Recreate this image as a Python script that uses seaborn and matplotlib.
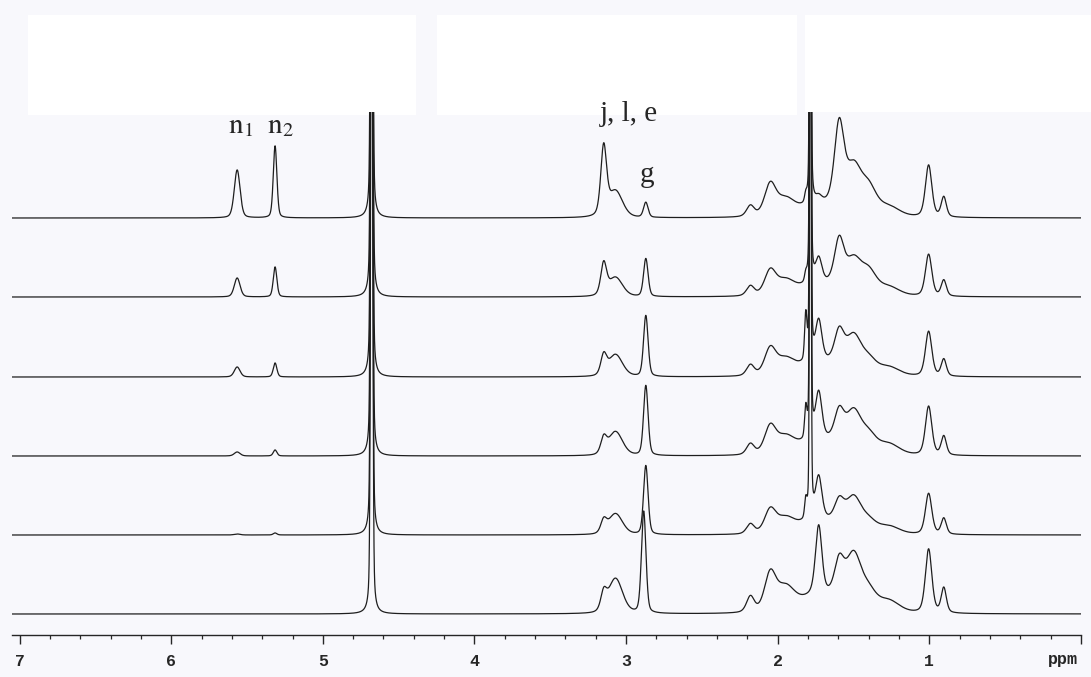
import numpy as np
import pandas as pd
import matplotlib
matplotlib.use("Agg")
import matplotlib.pyplot as plt
from matplotlib.patches import Rectangle
from matplotlib.ticker import MultipleLocator
import seaborn as sns

# peak table (ppm position, line width in ppm, lorentzian fraction)
peak_ppm = [5.565, 5.315, 4.678, 3.148, 3.07, 2.87, 2.18, 2.05, 1.95, 1.815,
            1.785, 1.73, 1.595, 1.50, 1.40, 1.27, 1.005, 0.905, 1.72]
peak_fwhm = [0.045, 0.028, 0.014, 0.045, 0.11, 0.035, 0.06, 0.09, 0.14, 0.018,
             0.010, 0.05, 0.075, 0.12, 0.12, 0.17, 0.05, 0.04, 0.30]
peak_eta = [0.3, 0.3, 0.3, 0.4, 0.3, 0.3, 0.4, 0.4, 0.3, 0.3,
            0.3, 0.4, 0.4, 0.3, 0.3, 0.3, 0.4, 0.4, 0.0]

# peak heights of each spectrum, top trace first
heights_1 = [48, 72, 900, 68, 26, 15, 11, 31, 16, 8, 900, 6, 82, 45, 26, 10, 52, 20, 12]
heights_2 = [19, 30, 900, 31, 19, 38, 10, 24, 14, 8, 900, 24, 46, 32, 22, 9, 42, 16, 12]
heights_3 = [10, 14, 900, 19, 22, 61, 11, 26, 15, 45, 900, 40, 33, 36, 14, 9, 45, 17, 14]
heights_4 = [4, 6, 900, 15, 24, 70, 11, 27, 16, 30, 900, 46, 31, 39, 17, 11, 49, 19, 15]
heights_5 = [1, 2, 900, 12, 21, 69, 10, 23, 14, 18, 900, 42, 22, 33, 11, 8, 41, 16, 14]
heights_6 = [0, 0, 900, 17, 35, 102, 16, 37, 23, 0, 0, 68, 36, 53, 18, 12, 64, 25, 18]
all_heights = [heights_1, heights_2, heights_3, heights_4, heights_5, heights_6]

# small chemical shift drift of the g peak per trace
g_shift = [0, 0, 0, 0, 0, 0.014]

tick_labels = ["7", "6", "5", "4", "3", "2", "1", ""]
annotations = [(r"$\mathrm{n}_1$", 5.625), (r"$\mathrm{n}_2$", 5.365)]


def pseudo_voigt(x, x0, fwhm, eta):
    hw = fwhm / 2
    lor = hw ** 2 / (hw ** 2 + (x - x0) ** 2)
    gau = np.exp(-np.log(2) * ((x - x0) / hw) ** 2)
    return eta * lor + (1 - eta) * gau


ppm = np.arange(7.05, -0.0005, -0.0005)
offsets = [417, 338, 258, 179, 100, 21]

frames = []
for k, (hts, off) in enumerate(zip(all_heights, offsets)):
    y = np.zeros_like(ppm)
    for i, (p, w, e, h) in enumerate(zip(peak_ppm, peak_fwhm, peak_eta, hts)):
        if i == 5:
            p = p + g_shift[k]
        y += h * pseudo_voigt(ppm, p, w, e)
    frames.append(pd.DataFrame({"ppm": ppm, "intensity": y + off, "trace": k}))
df = pd.concat(frames, ignore_index=True)

sns.set_style("white")
plt.rcParams["mathtext.fontset"] = "stix"

W, H = 1091, 677
fig = plt.figure(figsize=(W / 100, H / 100), dpi=100, facecolor="#f8f8fc")
# white boxes at the top of the scan
for x0, x1, y1 in [(28, 416, 115), (437, 797, 115), (805, 1091, 112)]:
    fig.patches.append(Rectangle((x0 / W, 1 - y1 / H), (x1 - x0) / W, (y1 - 15) / H,
                                 transform=fig.transFigure, facecolor="white",
                                 edgecolor="none", zorder=-5))

ax = fig.add_axes([12 / W, (H - 635) / H, (1081 - 12) / W, (635 - 112) / H])
ax.set_facecolor("none")
ax.set_zorder(2)

sns.lineplot(data=df, x="ppm", y="intensity", hue="trace", units="trace",
             estimator=None, sort=False, palette=["#1e1e1e"] * 6,
             linewidth=0.9, legend=False, ax=ax)

ax.set_xlim(7.05, 0)
ax.set_ylim(0, 523)
for s in ["top", "left", "right"]:
    ax.spines[s].set_visible(False)
ax.spines["bottom"].set_linewidth(1.0)
ax.set_yticks([])
ax.set_ylabel("")
ax.set_xlabel("")
ax.set_xticks(range(7, -1, -1))
ax.set_xticklabels(tick_labels, family="Liberation Mono", fontweight="bold", fontsize=12)
ax.xaxis.set_minor_locator(MultipleLocator(0.2))
ax.tick_params(axis="x", which="major", direction="out", length=6.5, width=1.0,
               pad=7, bottom=True)
ax.tick_params(axis="x", which="minor", direction="out", length=3, width=0.9, bottom=True)
ax.text(0.12, -17, "ppm", family="Liberation Mono", fontweight="bold", fontsize=12,
        ha="center", va="top")

for label, x in annotations:
    ax.text(x, 502, label, fontsize=21, ha="left", va="baseline")
ax.text(2.985, 514, "j, l, e", family="Liberation Serif", fontsize=21, ha="center",
        va="baseline", clip_on=False)
ax.text(2.865, 453, "g", family="Liberation Serif", fontsize=21, ha="center", va="baseline")

fig.savefig("out.png", dpi=100, facecolor=fig.get_facecolor())
